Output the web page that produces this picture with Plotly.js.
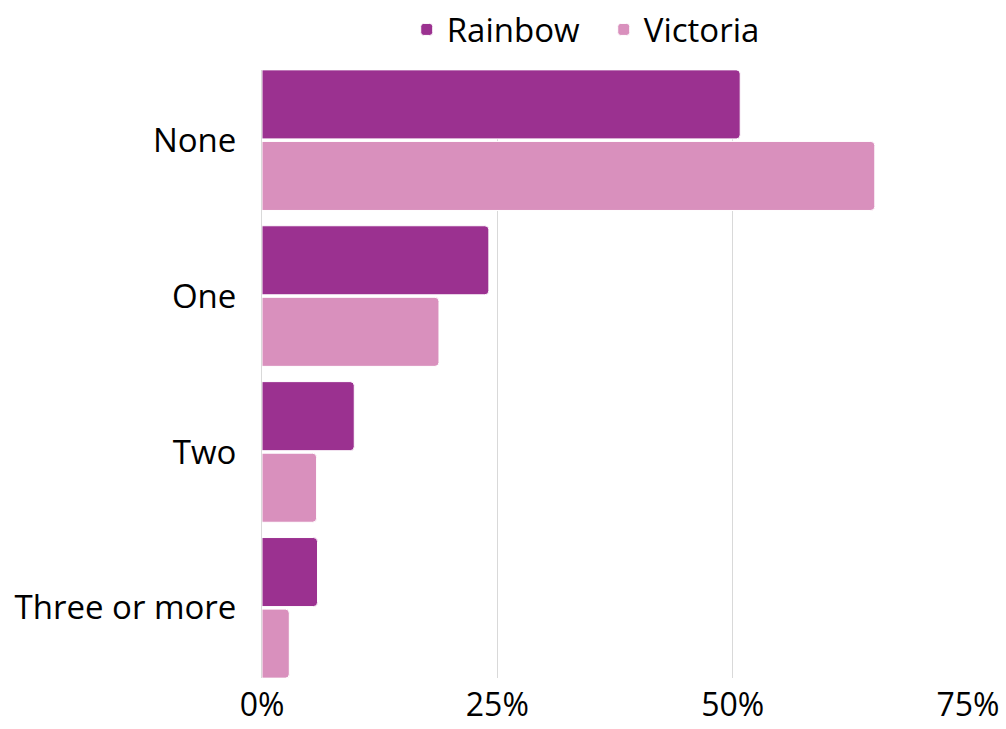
<!DOCTYPE html>
<html>
<head>
<meta charset="utf-8">
<script src="https://cdn.plot.ly/plotly-3.0.1.min.js"></script>
<style>html,body{margin:0;padding:0;background:#fff;}#chart{width:1006px;height:729px;}</style>
</head>
<body>
<div id="chart"></div>
<script>
const categories = ["None", "One", "Two", "Three or more"];
const rainbow = [50.8, 24.1, 9.8, 5.9];
const victoria = [65.1, 18.8, 5.8, 2.9];
const xTicks = [0, 25, 50, 75];
const xTickLabels = ["0%", "25%", "50%", "75%"];

const fontFam = "Open Sans, Lato, sans-serif";

const traces = [
  {type: "bar", orientation: "h", name: "Rainbow", y: categories, x: rainbow,
   marker: {color: "#9B3190", cornerradius: 4, line: {color: "#ffffff", width: 1}}, hoverinfo: "x+name"},
  {type: "bar", orientation: "h", name: "Victoria", y: categories, x: victoria,
   marker: {color: "#D990BD", cornerradius: 4, line: {color: "#ffffff", width: 1}}, hoverinfo: "x+name"}
];

const layout = {
  width: 1006, height: 729,
  margin: {l: 262, r: 38, t: 70, b: 51.4, pad: 0},
  paper_bgcolor: "#ffffff", plot_bgcolor: "#ffffff",
  font: {family: fontFam, size: 33, color: "#000000"},
  barmode: "group", bargap: 0.082, bargroupgap: 0.035,
  showlegend: true,
  legend: {orientation: "h", x: 0.205, xanchor: "left", y: 0.998, yanchor: "top", yref: "container",
           entrywidth: 152, entrywidthmode: "pixels",
           font: {family: fontFam, size: 33, color: "#000"}, traceorder: "normal"},
  xaxis: {range: [0, 75], tickvals: xTicks, ticktext: xTickLabels, showgrid: true, gridcolor: "#d9d9d9",
          gridwidth: 1, zeroline: false, showline: false, ticks: "", fixedrange: true, ticklabelstandoff: 5,
          tickfont: {family: fontFam, size: 32, color: "#000"}},
  yaxis: {range: [3.45, -0.45], type: "category", showgrid: false, zeroline: false, showline: true,
          linecolor: "#d9d9d9", linewidth: 1, ticks: "", ticklabelstandoff: 18,
          tickfont: {family: fontFam, size: 33, color: "#000"}}
};

Plotly.newPlot("chart", traces, layout, {displayModeBar: false, staticPlot: true});
</script>
</body>
</html>
